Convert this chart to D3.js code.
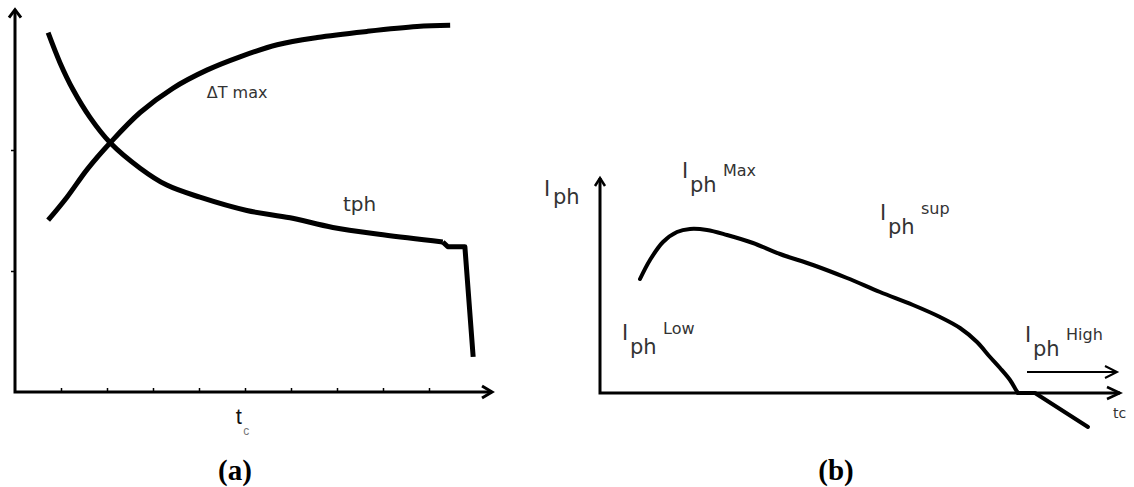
<!DOCTYPE html>
<html>
<head>
<meta charset="utf-8">
<script src="https://cdn.jsdelivr.net/npm/d3@7"></script>
<style>
  body { margin: 0; background: #fff; }
  svg { display: block; }
</style>
</head>
<body>
<svg id="chart" width="1134" height="487"></svg>
<script>
// ---- panel (a) data: tc on x (0..10), arbitrary units on y (0..3)
const tcTicks = [1, 2, 3, 4, 5, 6, 7, 8, 9];
const yTicksA = [1, 2];

const dTmax = [
  [0.72, 1.42], [1.13, 1.61], [1.57, 1.84], [2.07, 2.06], [2.72, 2.31],
  [3.43, 2.51], [4.17, 2.66], [4.89, 2.77], [5.70, 2.87], [6.57, 2.93],
  [7.65, 2.98], [8.74, 3.02], [9.46, 3.03]
];

const tph = [
  [0.72, 2.97], [0.98, 2.72], [1.26, 2.50], [1.63, 2.27], [2.07, 2.06],
  [2.72, 1.85], [3.30, 1.71], [4.02, 1.61], [5.04, 1.50], [5.98, 1.44],
  [6.91, 1.36], [8.00, 1.30], [9.30, 1.24]
];
// the step and drop at the end of tph
const tphTail = [[9.30, 1.24], [9.41, 1.20], [9.78, 1.20], [9.96, 0.29]];

// ---- panel (b) data: Iph against tc
const iph = [
  [0.80, 2.28], [1.00, 2.66], [1.26, 3.02], [1.54, 3.22], [1.80, 3.28],
  [2.14, 3.26], [2.54, 3.16], [3.06, 3.00], [3.60, 2.78], [4.26, 2.56],
  [4.94, 2.30], [5.60, 2.02], [6.26, 1.76], [6.80, 1.52], [7.20, 1.30],
  [7.54, 1.02], [7.80, 0.72], [8.00, 0.50], [8.20, 0.26], [8.32, 0.06],
  [8.36, 0]
];
const iphTail = [[8.36, 0], [8.70, 0], [9.76, -0.68]];
const highArrow = [[8.54, 0.42], [10.34, 0.42]];

// Iph labels: anchor of the "I", superscript text, superscript baseline shift
const iphLabels = [
  { x: 1.64, y: 4.30, sup: "Max", supDy: -2 },
  { x: 5.60, y: 3.46, sup: "sup", supDy: -6 },
  { x: 0.44, y: 1.06, sup: "Low", supDy: -6 },
  { x: 8.50, y: 1.02, sup: "High", supDy: -2 }
];

const svg = d3.select("#chart");

// simple open chevron at the end of an axis line
function chevron(g, tip, dir, len, half, width) {
  const nx = -dir[1], ny = dir[0];
  const bx = tip[0] - dir[0] * len, by = tip[1] - dir[1] * len;
  g.append("path")
    .attr("d", `M${bx + nx * half},${by + ny * half}L${tip[0]},${tip[1]}L${bx - nx * half},${by - ny * half}`)
    .attr("fill", "none")
    .attr("stroke", "#000")
    .attr("stroke-width", width)
    .attr("stroke-linejoin", "miter");
}

/* ---------------- panel (a) ---------------- */
const xA = d3.scaleLinear().domain([0, 10]).range([15, 475]);
const yA = d3.scaleLinear().domain([0, 3]).range([392, 29]);
const gA = svg.append("g");

// ticks through d3 axes, domain line drawn separately with arrows
gA.append("g")
  .attr("transform", `translate(0,${yA(0)})`)
  .call(d3.axisBottom(xA).tickValues(tcTicks).tickSize(-4).tickFormat(""))
  .call(g => g.select(".domain").remove())
  .call(g => g.selectAll("line").attr("stroke", "#000").attr("stroke-width", 1.5));

gA.append("g")
  .attr("transform", `translate(${xA(0)},0)`)
  .call(d3.axisLeft(yA).tickValues(yTicksA).tickSize(4).tickFormat(""))
  .call(g => g.select(".domain").remove())
  .call(g => g.selectAll("line").attr("stroke", "#000").attr("stroke-width", 1.5));

gA.append("path")
  .attr("d", `M${xA(0)},${yA(3.16)}V${yA(0)}H${xA(10.37)}`)
  .attr("fill", "none").attr("stroke", "#000").attr("stroke-width", 3);
chevron(gA, [xA(10.37), yA(0)], [1, 0], 10, 6, 3);
chevron(gA, [xA(0), yA(3.16)], [0, -1], 8, 6, 3);

const smoothA = d3.line().x(d => xA(d[0])).y(d => yA(d[1])).curve(d3.curveCatmullRom.alpha(0.5));
const straightA = d3.line().x(d => xA(d[0])).y(d => yA(d[1]));

gA.selectAll(".curveA")
  .data([dTmax, tph])
  .enter().append("path")
  .attr("class", "curveA")
  .attr("d", smoothA)
  .attr("fill", "none")
  .attr("stroke", "#000")
  .attr("stroke-width", 5)
  .attr("stroke-linejoin", "round");

gA.append("path")
  .datum(tphTail)
  .attr("d", straightA)
  .attr("fill", "none")
  .attr("stroke", "#000")
  .attr("stroke-width", 5)
  .attr("stroke-linejoin", "round");

gA.append("text")
  .attr("x", xA(4.17)).attr("y", yA(2.43))
  .attr("font-family", "DejaVu Sans").attr("font-size", 16).attr("fill", "#333")
  .text("\u0394T max");

gA.append("text")
  .attr("x", xA(7.13)).attr("y", yA(1.50))
  .attr("font-family", "DejaVu Sans").attr("font-size", 20).attr("fill", "#333")
  .text("tph");

gA.append("text")
  .attr("x", xA(4.8)).attr("y", 424)
  .attr("font-family", "Liberation Sans").attr("font-size", 22).attr("fill", "#111")
  .text("t");
gA.append("text")
  .attr("x", xA(4.96)).attr("y", 435)
  .attr("font-family", "Liberation Sans").attr("font-size", 12).attr("fill", "#777")
  .text("c");

gA.append("text")
  .attr("x", 235).attr("y", 480)
  .attr("text-anchor", "middle")
  .attr("font-family", "Liberation Serif").attr("font-weight", "bold").attr("font-size", 29)
  .text("(a)");

/* ---------------- panel (b) ---------------- */
const xB = d3.scaleLinear().domain([0, 10]).range([600, 1100]);
const yB = d3.scaleLinear().domain([0, 4]).range([393, 193]);
const gB = svg.append("g");

gB.append("path")
  .attr("d", `M${xB(0)},${yB(4.3)}V${yB(0)}H${xB(10.4)}`)
  .attr("fill", "none").attr("stroke", "#000").attr("stroke-width", 3);
chevron(gB, [xB(10.4), yB(0)], [1, 0], 13, 6, 2.5);
chevron(gB, [xB(0), yB(4.3)], [0, -1], 8, 5, 2.5);

const smoothB = d3.line().x(d => xB(d[0])).y(d => yB(d[1])).curve(d3.curveCatmullRom.alpha(0.5));
const straightB = d3.line().x(d => xB(d[0])).y(d => yB(d[1]));

gB.append("path")
  .datum(iph)
  .attr("d", smoothB)
  .attr("fill", "none")
  .attr("stroke", "#000")
  .attr("stroke-width", 4)
  .attr("stroke-linecap", "round");

gB.append("path")
  .datum(iphTail)
  .attr("d", straightB)
  .attr("fill", "none")
  .attr("stroke", "#000")
  .attr("stroke-width", 4)
  .attr("stroke-linejoin", "round")
  .attr("stroke-linecap", "round");

gB.append("path")
  .datum(highArrow)
  .attr("d", straightB)
  .attr("stroke", "#000").attr("stroke-width", 2);
chevron(gB, [xB(highArrow[1][0]), yB(highArrow[1][1])], [1, 0], 12, 6, 2);

// y-axis label Iph
gB.append("text")
  .attr("x", 544).attr("y", 196)
  .attr("font-family", "DejaVu Sans").attr("font-size", 21).attr("fill", "#333")
  .text("I");
gB.append("text")
  .attr("x", 553).attr("y", 204)
  .attr("font-family", "DejaVu Sans").attr("font-size", 21).attr("fill", "#333")
  .text("ph");

const labs = gB.selectAll(".iph")
  .data(iphLabels)
  .enter().append("g")
  .attr("class", "iph")
  .attr("transform", d => `translate(${xB(d.x)},${yB(d.y)})`)
  .attr("font-family", "DejaVu Sans")
  .attr("fill", "#333");
labs.append("text").attr("font-size", 21).text("I");
labs.append("text").attr("x", 8).attr("y", 14).attr("font-size", 21).text("ph");
labs.append("text").attr("x", 41).attr("y", d => d.supDy).attr("font-size", 16).text(d => d.sup);

gB.append("text")
  .attr("x", xB(10.26)).attr("y", yB(-0.5))
  .attr("font-family", "DejaVu Sans").attr("font-size", 14).attr("fill", "#333")
  .text("tc");

gB.append("text")
  .attr("x", 836).attr("y", 480)
  .attr("text-anchor", "middle")
  .attr("font-family", "Liberation Serif").attr("font-weight", "bold").attr("font-size", 29)
  .text("(b)");
</script>
</body>
</html>
